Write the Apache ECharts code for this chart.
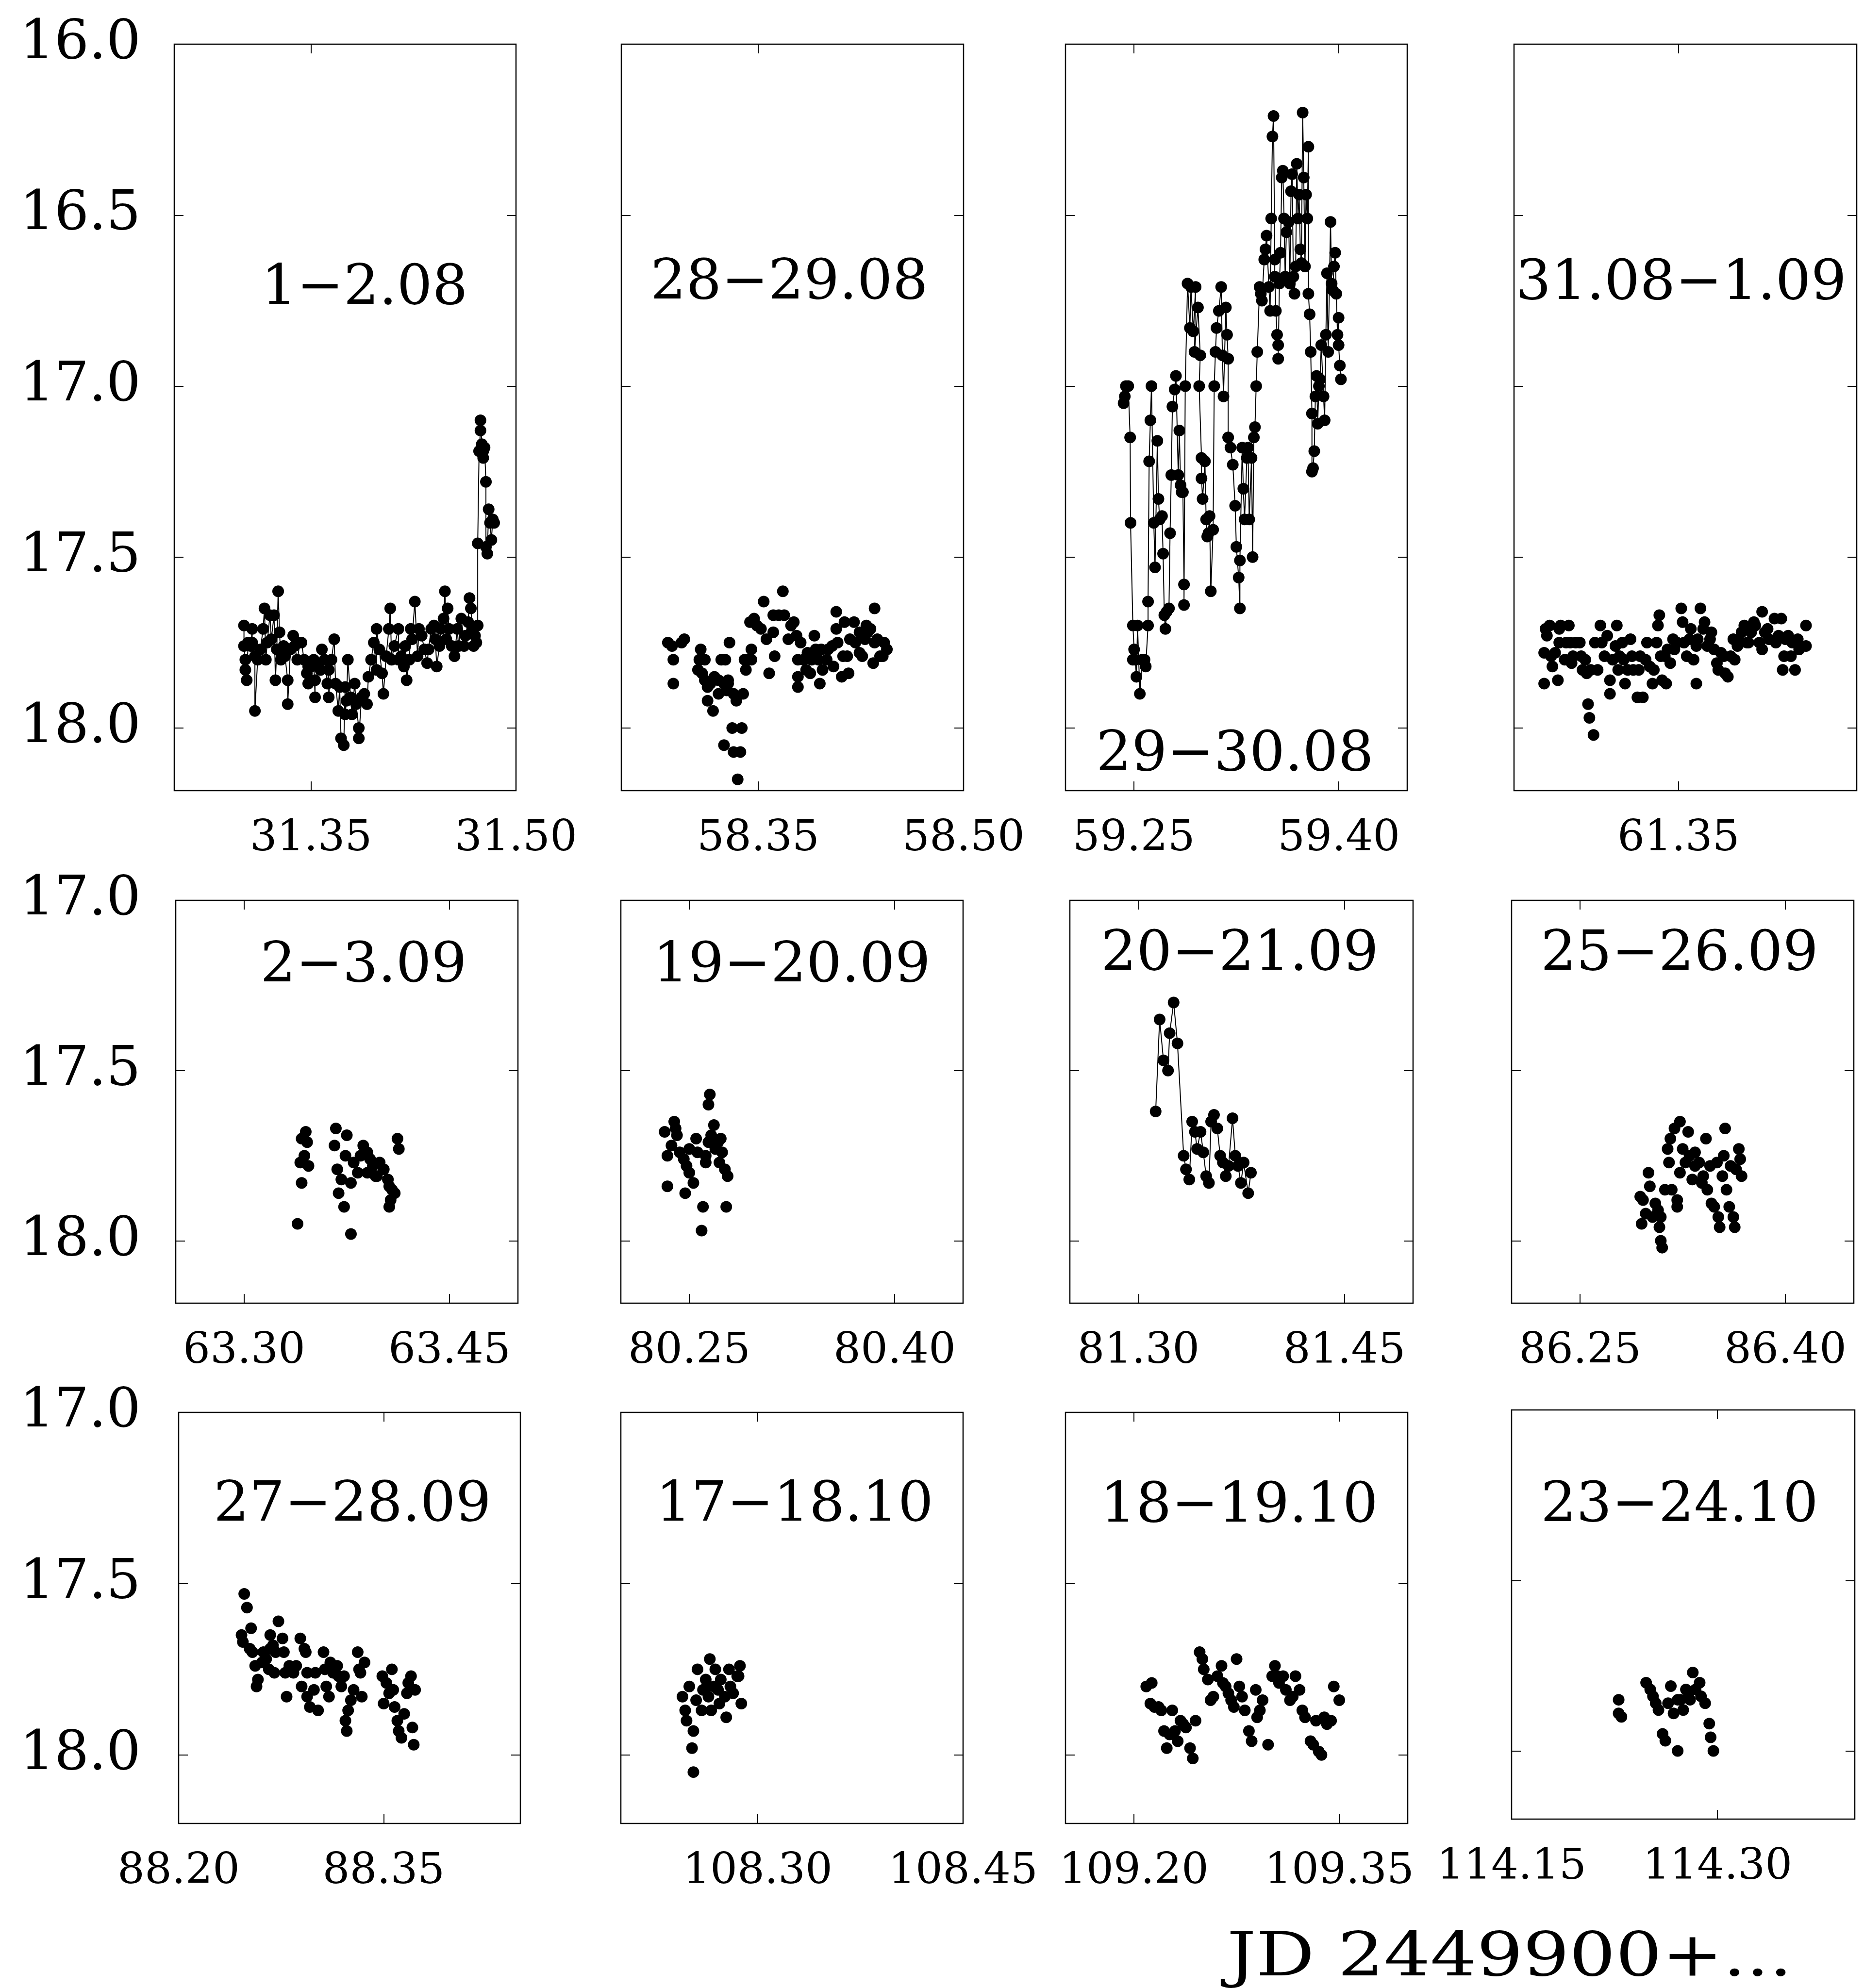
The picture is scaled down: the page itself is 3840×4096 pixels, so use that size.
<!DOCTYPE html>
<html>
<head>
<meta charset="utf-8">
<script src="https://cdn.jsdelivr.net/npm/echarts@6/dist/echarts.min.js"></script>
<style>
html, body { margin: 0; padding: 0; background: #fff; }
#chart { width: 3840px; height: 4096px; }
</style>
</head>
<body>
<div id="chart"></div>
<script>
// light curves, JD - 2449900 vs magnitude, one array per night
const p1Data = [[31.301,17.70],[31.301,17.76],[31.302,17.80],[31.302,17.83],[31.303,17.86],[31.304,17.75],[31.306,17.76],[31.307,17.71],[31.307,17.75],[31.309,17.79],[31.309,17.95],[31.311,17.80],[31.313,17.77],[31.315,17.71],[31.316,17.65],[31.317,17.80],[31.318,17.75],[31.320,17.67],[31.321,17.74],[31.323,17.67],[31.324,17.86],[31.325,17.77],[31.326,17.60],[31.327,17.72],[31.328,17.80],[31.330,17.76],[31.331,17.79],[31.333,17.86],[31.333,17.93],[31.335,17.77],[31.337,17.73],[31.338,17.76],[31.340,17.80],[31.342,17.75],[31.343,17.75],[31.345,17.80],[31.347,17.84],[31.348,17.82],[31.348,17.87],[31.350,17.82],[31.352,17.80],[31.353,17.91],[31.353,17.86],[31.355,17.82],[31.357,17.83],[31.358,17.77],[31.360,17.80],[31.362,17.87],[31.363,17.83],[31.363,17.91],[31.365,17.80],[31.367,17.74],[31.368,17.87],[31.370,17.95],[31.371,17.88],[31.372,18.03],[31.374,18.05],[31.375,17.88],[31.375,17.96],[31.376,17.92],[31.377,17.80],[31.379,17.91],[31.380,17.96],[31.382,17.87],[31.383,17.93],[31.385,18.00],[31.385,18.03],[31.387,17.91],[31.389,17.90],[31.391,17.93],[31.392,17.85],[31.394,17.80],[31.396,17.75],[31.398,17.83],[31.398,17.71],[31.400,17.77],[31.402,17.84],[31.403,17.90],[31.405,17.79],[31.407,17.71],[31.408,17.65],[31.409,17.80],[31.411,17.76],[31.414,17.71],[31.414,17.80],[31.416,17.79],[31.418,17.82],[31.419,17.76],[31.420,17.86],[31.422,17.80],[31.423,17.71],[31.424,17.74],[31.426,17.63],[31.428,17.79],[31.429,17.71],[31.431,17.73],[31.433,17.77],[31.435,17.81],[31.436,17.77],[31.438,17.71],[31.440,17.70],[31.441,17.74],[31.442,17.82],[31.444,17.76],[31.445,17.71],[31.447,17.68],[31.448,17.60],[31.449,17.74],[31.450,17.65],[31.451,17.71],[31.453,17.76],[31.455,17.79],[31.457,17.71],[31.458,17.76],[31.460,17.68],[31.462,17.76],[31.463,17.73],[31.465,17.69],[31.466,17.62],[31.467,17.65],[31.468,17.71],[31.469,17.76],[31.470,17.73],[31.471,17.75],[31.472,17.70],[31.472,17.46],[31.473,17.19],[31.474,17.13],[31.474,17.10],[31.475,17.17],[31.476,17.19],[31.476,17.21],[31.477,17.18],[31.478,17.28],[31.478,17.47],[31.479,17.49],[31.480,17.36],[31.481,17.40],[31.482,17.45],[31.483,17.39],[31.484,17.40]];

const p2Data = [[58.284,17.75],[58.287,17.76],[58.288,17.80],[58.288,17.87],[58.296,17.74],[58.294,17.75],[58.308,17.77],[58.307,17.80],[58.311,17.80],[58.306,17.83],[58.309,17.84],[58.311,17.86],[58.313,17.88],[58.315,17.87],[58.318,17.85],[58.321,17.86],[58.313,17.92],[58.317,17.95],[58.321,17.90],[58.323,17.80],[58.326,17.80],[58.325,17.87],[58.328,17.87],[58.329,17.75],[58.328,17.86],[58.327,17.89],[58.332,17.90],[58.334,17.92],[58.339,17.90],[58.325,18.05],[58.331,18.00],[58.332,18.07],[58.338,18.00],[58.337,18.07],[58.335,18.15],[58.340,17.80],[58.341,17.83],[58.342,17.80],[58.344,17.69],[58.345,17.80],[58.347,17.68],[58.349,17.70],[58.345,17.77],[58.354,17.63],[58.352,17.71],[58.356,17.74],[58.358,17.84],[58.361,17.67],[58.361,17.72],[58.362,17.79],[58.365,17.67],[58.368,17.60],[58.369,17.67],[58.372,17.74],[58.374,17.70],[58.376,17.69],[58.378,17.73],[58.379,17.80],[58.379,17.85],[58.381,17.75],[58.379,17.88],[58.383,17.80],[58.385,17.83],[58.386,17.78],[58.388,17.84],[58.389,17.80],[58.391,17.73],[58.392,17.77],[58.394,17.80],[58.395,17.87],[58.396,17.77],[58.397,17.83],[58.400,17.80],[58.401,17.77],[58.404,17.76],[58.405,17.82],[58.407,17.71],[58.407,17.66],[58.408,17.75],[58.411,17.85],[58.412,17.79],[58.413,17.69],[58.415,17.79],[58.416,17.84],[58.417,17.74],[58.420,17.69],[58.421,17.75],[58.424,17.72],[58.424,17.78],[58.426,17.79],[58.428,17.74],[58.429,17.70],[58.430,17.72],[58.432,17.71],[58.434,17.81],[58.435,17.75],[58.435,17.65],[58.437,17.74],[58.439,17.79],[58.441,17.79],[58.442,17.75],[58.444,17.77]];

const p3Data = [[59.2425,17.05],[59.2434,17.03],[59.2442,17.00],[59.2459,17.00],[59.2473,17.15],[59.2476,17.40],[59.2493,17.70],[59.2502,17.77],[59.2493,17.80],[59.2510,17.80],[59.2519,17.85],[59.2527,17.70],[59.2544,17.90],[59.2561,17.80],[59.2578,17.80],[59.2587,17.82],[59.2604,17.70],[59.2604,17.63],[59.2612,17.22],[59.2621,17.10],[59.2629,17.00],[59.2646,17.40],[59.2655,17.53],[59.2672,17.16],[59.2680,17.33],[59.2689,17.39],[59.2706,17.38],[59.2714,17.49],[59.2723,17.67],[59.2731,17.71],[59.2740,17.66],[59.2757,17.65],[59.2765,17.43],[59.2774,17.26],[59.2782,17.06],[59.2799,17.01],[59.2808,16.97],[59.2825,17.26],[59.2833,17.13],[59.2842,17.29],[59.2850,17.31],[59.2859,17.31],[59.2867,17.58],[59.2867,17.64],[59.2876,17.00],[59.2893,16.70],[59.2910,16.83],[59.2918,16.71],[59.2935,16.84],[59.2952,16.71],[59.2944,16.90],[59.2969,16.77],[59.2986,16.91],[59.2978,17.00],[59.2995,17.21],[59.2995,17.27],[59.3003,17.33],[59.3020,17.22],[59.3029,17.39],[59.3037,17.44],[59.3046,17.43],[59.3054,17.38],[59.3063,17.60],[59.3080,17.42],[59.3088,17.00],[59.3097,16.90],[59.3105,16.83],[59.3122,16.78],[59.3139,16.71],[59.3148,16.91],[59.3156,17.03],[59.3173,16.77],[59.3182,16.85],[59.3190,16.92],[59.3190,17.15],[59.3207,17.18],[59.3224,17.23],[59.3241,17.35],[59.3250,17.47],[59.3267,17.56],[59.3276,17.65],[59.3276,17.51],[59.3293,17.18],[59.3301,17.30],[59.3310,17.39],[59.3327,17.21],[59.3335,17.18],[59.3344,17.39],[59.3361,17.21],[59.3369,17.50],[59.3378,17.15],[59.3386,17.12],[59.3395,17.00],[59.3403,16.90],[59.3420,16.71],[59.3429,16.73],[59.3437,16.75],[59.3454,16.63],[59.3463,16.60],[59.3471,16.56],[59.3488,16.71],[59.3497,16.78],[59.3505,16.51],[59.3514,16.27],[59.3522,16.21],[59.3531,16.63],[59.3531,16.68],[59.3539,16.78],[59.3548,16.85],[59.3556,16.88],[59.3556,16.92],[59.3565,16.70],[59.3573,16.61],[59.3582,16.39],[59.3590,16.37],[59.3599,16.51],[59.3607,16.68],[59.3616,16.55],[59.3633,16.52],[59.3641,16.70],[59.3650,16.43],[59.3658,16.38],[59.3667,16.68],[59.3675,16.73],[59.3684,16.65],[59.3692,16.35],[59.3701,16.51],[59.3709,16.44],[59.3718,16.60],[59.3726,16.64],[59.3735,16.20],[59.3743,16.39],[59.3752,16.65],[59.3760,16.44],[59.3769,16.51],[59.3777,16.30],[59.3777,16.73],[59.3786,16.79],[59.3794,16.90],[59.3803,17.08],[59.3803,17.25],[59.3811,17.24],[59.3820,17.19],[59.3828,17.03],[59.3837,16.97],[59.3845,17.11],[59.3854,17.00],[59.3862,16.98],[59.3871,16.88],[59.3888,17.03],[59.3896,17.10],[59.3905,16.85],[59.3913,16.67],[59.3922,16.90],[59.3939,16.52],[59.3947,16.70],[59.3956,16.72],[59.3964,16.65],[59.3973,16.61],[59.3981,16.73],[59.3990,16.85],[59.3998,16.80],[59.3998,16.88],[59.4007,16.94],[59.4015,16.98]];

const p4Data = [[61.252,17.87],[61.252,17.78],[61.253,17.71],[61.254,17.73],[61.256,17.70],[61.257,17.79],[61.258,17.82],[61.260,17.78],[61.262,17.86],[61.263,17.71],[61.263,17.75],[61.264,17.70],[61.267,17.80],[61.268,17.75],[61.270,17.70],[61.271,17.75],[61.272,17.81],[61.273,17.79],[61.275,17.75],[61.278,17.75],[61.279,17.79],[61.280,17.83],[61.282,17.80],[61.283,17.84],[61.284,17.93],[61.285,17.97],[61.286,17.83],[61.288,18.02],[61.289,17.75],[61.291,17.83],[61.293,17.70],[61.294,17.75],[61.296,17.79],[61.298,17.73],[61.300,17.86],[61.300,17.90],[61.302,17.80],[61.304,17.76],[61.305,17.70],[61.306,17.83],[61.307,17.79],[61.309,17.75],[61.310,17.80],[61.311,17.87],[61.313,17.83],[61.315,17.74],[61.316,17.79],[61.317,17.83],[61.320,17.91],[61.321,17.83],[61.322,17.79],[61.324,17.91],[61.326,17.80],[61.327,17.75],[61.329,17.82],[61.331,17.87],[61.332,17.83],[61.334,17.75],[61.335,17.70],[61.336,17.67],[61.337,17.79],[61.338,17.86],[61.340,17.79],[61.341,17.87],[61.342,17.77],[61.344,17.81],[61.346,17.74],[61.347,17.77],[61.349,17.75],[61.352,17.65],[61.353,17.69],[61.354,17.75],[61.356,17.79],[61.358,17.74],[61.359,17.71],[61.361,17.80],[61.363,17.76],[61.363,17.87],[61.364,17.74],[61.366,17.65],[61.368,17.71],[61.369,17.69],[61.371,17.76],[61.373,17.74],[61.374,17.72],[61.376,17.77],[61.378,17.81],[61.379,17.83],[61.381,17.78],[61.383,17.79],[61.384,17.84],[61.386,17.85],[61.388,17.79],[61.390,17.74],[61.391,17.80],[61.393,17.76],[61.395,17.75],[61.396,17.72],[61.398,17.70],[61.400,17.75],[61.401,17.75],[61.403,17.72],[61.405,17.69],[61.406,17.70],[61.409,17.75],[61.411,17.66],[61.411,17.77],[61.413,17.72],[61.415,17.71],[61.416,17.74],[61.420,17.68],[61.421,17.75],[61.423,17.73],[61.425,17.68],[61.426,17.83],[61.427,17.79],[61.428,17.74],[61.430,17.73],[61.432,17.79],[61.433,17.75],[61.435,17.83],[61.437,17.74],[61.438,17.77],[61.443,17.76],[61.443,17.70]];

const p5Data = [[63.339,17.95],[63.342,17.70],[63.345,17.68],[63.346,17.71],[63.341,17.77],[63.344,17.75],[63.347,17.78],[63.342,17.83],[63.367,17.67],[63.366,17.72],[63.375,17.69],[63.374,17.75],[63.368,17.79],[63.371,17.82],[63.378,17.83],[63.369,17.86],[63.373,17.90],[63.378,17.98],[63.380,17.77],[63.385,17.75],[63.387,17.72],[63.390,17.74],[63.392,17.76],[63.394,17.78],[63.397,17.81],[63.399,17.77],[63.402,17.79],[63.405,17.82],[63.406,17.84],[63.408,17.85],[63.410,17.86],[63.407,17.88],[63.406,17.90],[63.412,17.70],[63.413,17.73],[63.390,17.80],[63.383,17.80],[63.396,17.81]];

const p6Data = [[80.232,17.68],[80.234,17.75],[80.239,17.65],[80.240,17.67],[80.237,17.72],[80.241,17.69],[80.243,17.74],[80.246,17.76],[80.248,17.78],[80.250,17.80],[80.253,17.83],[80.247,17.86],[80.255,17.70],[80.256,17.74],[80.260,17.90],[80.259,17.97],[80.234,17.84],[80.262,17.77],[80.264,17.71],[80.265,17.57],[80.264,17.60],[80.268,17.66],[80.266,17.69],[80.269,17.73],[80.271,17.71],[80.272,17.77],[80.273,17.70],[80.274,17.74],[80.276,17.79],[80.278,17.81],[80.277,17.90],[80.262,17.75],[80.250,17.73]];

const p7Data = [[81.3125,17.62],[81.3154,17.35],[81.3182,17.47],[81.3215,17.50],[81.3227,17.39],[81.3256,17.30],[81.3284,17.42],[81.3329,17.75],[81.3346,17.79],[81.3370,17.82],[81.3391,17.65],[81.3411,17.68],[81.3427,17.73],[81.3452,17.68],[81.3472,17.74],[81.3493,17.81],[81.3513,17.83],[81.3529,17.65],[81.3550,17.63],[81.3574,17.67],[81.3595,17.75],[81.3615,17.77],[81.3636,17.81],[81.3656,17.78],[81.3685,17.64],[81.3705,17.75],[81.3725,17.78],[81.3746,17.83],[81.3766,17.77],[81.3799,17.86],[81.3819,17.80]];

const p8Data = [[86.294,17.87],[86.296,17.88],[86.298,17.92],[86.295,17.95],[86.300,17.80],[86.301,17.84],[86.305,17.89],[86.307,17.91],[86.303,17.93],[86.309,17.93],[86.308,17.96],[86.309,18.00],[86.310,18.02],[86.312,17.85],[86.314,17.73],[86.315,17.77],[86.316,17.70],[86.317,17.85],[86.321,17.88],[86.321,17.90],[86.319,17.67],[86.323,17.65],[86.323,17.80],[86.325,17.73],[86.327,17.77],[86.329,17.68],[86.330,17.75],[86.332,17.82],[86.334,17.78],[86.334,17.74],[86.337,17.77],[86.339,17.83],[86.340,17.81],[86.342,17.70],[86.343,17.85],[86.345,17.78],[86.346,17.89],[86.348,17.90],[86.350,17.77],[86.351,17.93],[86.352,17.96],[86.354,17.81],[86.355,17.75],[86.356,17.67],[86.357,17.85],[86.359,17.90],[86.360,17.78],[86.362,17.93],[86.363,17.96],[86.364,17.79],[86.366,17.73],[86.367,17.76],[86.368,17.81]];

const p9Data = [[88.248,17.53],[88.250,17.57],[88.246,17.65],[88.247,17.67],[88.253,17.63],[88.252,17.69],[88.254,17.70],[88.256,17.74],[88.258,17.78],[88.257,17.80],[88.261,17.73],[88.262,17.70],[88.264,17.72],[88.267,17.65],[88.267,17.69],[88.266,17.75],[88.269,17.68],[88.271,17.70],[88.270,17.76],[88.273,17.61],[88.276,17.66],[88.277,17.70],[88.278,17.76],[88.279,17.83],[88.281,17.74],[88.284,17.76],[88.286,17.74],[88.289,17.66],[88.292,17.69],[88.290,17.80],[88.293,17.70],[88.294,17.76],[88.294,17.83],[88.296,17.86],[88.299,17.81],[88.300,17.76],[88.302,17.87],[88.306,17.70],[88.307,17.75],[88.308,17.80],[88.310,17.83],[88.311,17.73],[88.313,17.76],[88.316,17.74],[88.317,17.77],[88.319,17.80],[88.321,17.77],[88.322,17.90],[88.323,17.93],[88.324,17.87],[88.326,17.84],[88.328,17.81],[88.331,17.70],[88.332,17.75],[88.333,17.76],[88.334,17.83],[88.336,17.73],[88.349,17.77],[88.350,17.85],[88.352,17.79],[88.354,17.82],[88.356,17.75],[88.357,17.81],[88.358,17.86],[88.360,17.90],[88.361,17.93],[88.363,17.95],[88.365,17.88],[88.367,17.82],[88.368,17.79],[88.370,17.77],[88.371,17.92],[88.372,17.97],[88.373,17.81]];

const p10Data = [[108.245,17.83],[108.247,17.87],[108.248,17.90],[108.250,17.80],[108.253,17.93],[108.252,17.98],[108.253,18.05],[108.255,17.84],[108.256,17.75],[108.259,17.87],[108.260,17.81],[108.262,17.78],[108.264,17.83],[108.265,17.72],[108.268,17.80],[108.269,17.75],[108.271,17.81],[108.272,17.85],[108.273,17.78],[108.276,17.83],[108.277,17.89],[108.279,17.75],[108.280,17.80],[108.282,17.82],[108.285,17.77],[108.287,17.74],[108.288,17.85],[108.286,17.77],[108.266,17.87],[108.263,17.80]];

const p11Data = [[109.209,17.80],[109.213,17.79],[109.212,17.85],[109.215,17.86],[109.218,17.86],[109.220,17.87],[109.222,17.93],[109.224,17.98],[109.226,17.94],[109.228,17.87],[109.230,17.93],[109.232,17.96],[109.234,17.90],[109.236,17.91],[109.238,17.92],[109.241,17.98],[109.243,18.01],[109.245,17.90],[109.248,17.70],[109.250,17.72],[109.251,17.75],[109.254,17.78],[109.256,17.84],[109.258,17.83],[109.261,17.77],[109.264,17.74],[109.265,17.79],[109.267,17.80],[109.269,17.82],[109.271,17.84],[109.273,17.86],[109.275,17.72],[109.277,17.80],[109.279,17.83],[109.281,17.87],[109.284,17.93],[109.286,17.96],[109.289,17.81],[109.290,17.89],[109.292,17.87],[109.294,17.84],[109.298,17.97],[109.301,17.77],[109.303,17.74],[109.305,17.77],[109.306,17.79],[109.309,17.77],[109.311,17.81],[109.314,17.84],[109.316,17.83],[109.318,17.77],[109.321,17.81],[109.323,17.87],[109.325,17.89],[109.329,17.96],[109.331,17.97],[109.333,17.90],[109.335,17.99],[109.337,18.00],[109.339,17.89],[109.341,17.91],[109.344,17.90],[109.346,17.80],[109.350,17.84]];

const p12Data = [[114.228,17.85],[114.228,17.89],[114.230,17.90],[114.248,17.80],[114.251,17.82],[114.253,17.84],[114.255,17.86],[114.257,17.88],[114.260,17.95],[114.262,17.97],[114.264,17.86],[114.266,17.81],[114.268,17.89],[114.271,18.00],[114.271,17.85],[114.273,17.85],[114.275,17.88],[114.277,17.82],[114.279,17.83],[114.280,17.85],[114.282,17.77],[114.284,17.82],[114.287,17.80],[114.288,17.84],[114.291,17.86],[114.294,17.92],[114.295,17.96],[114.297,18.00]];

const nightLabels = ['1\u22122.08', '28\u221229.08', '29\u221230.08', '31.08\u22121.09',
                     '2\u22123.09', '19\u221220.09', '20\u221221.09', '25\u221226.09',
                     '27\u221228.09', '17\u221218.10', '18\u221219.10', '23\u221224.10'];

const xRanges = [[31.25, 31.50], [58.25, 58.50], [59.20, 59.45], [61.23, 61.48],
                 [63.25, 63.50], [80.20, 80.45], [81.25, 81.50], [86.20, 86.45],
                 [88.20, 88.45], [108.20, 108.45], [109.15, 109.40], [114.15, 114.40]];

const xTickValues = [[31.35, 31.50], [58.35, 58.50], [59.25, 59.40], [61.35],
                     [63.30, 63.45], [80.25, 80.40], [81.30, 81.45], [86.25, 86.40],
                     [88.20, 88.35], [108.30, 108.45], [109.20, 109.35], [114.15, 114.30]];

const yRanges = [[16.0, 18.183], [17.0, 18.183], [17.0, 18.2]];
const yTickValues = [[16.5, 17.0, 17.5, 18.0], [17.5, 18.0], [17.5, 18.0]];
const yTickLabels = [[16.0, 16.5, 17.0, 17.5, 18.0], [17.0, 17.5, 18.0], [17.0, 17.5, 18.0]];

const joined = [true, false, true, false, false, false, true, false, false, false, false, false];
const xAxisName = 'JD 2449900+...';

const allData = [p1Data, p2Data, p3Data, p4Data, p5Data, p6Data,
                 p7Data, p8Data, p9Data, p10Data, p11Data, p12Data];

// layout in px: left, top, width, height of each frame
const boxes = [
    [359, 91, 704, 1538], [1280, 91, 705, 1538], [2195, 91, 704, 1538], [3119, 91, 706, 1538],
    [362, 1855, 705, 830], [1279, 1855, 705, 830], [2204, 1855, 707, 830], [3114, 1855, 705, 830],
    [368, 2910, 704, 847], [1279, 2910, 705, 847], [2195, 2910, 705, 847], [3114, 2905, 707, 843]
];
const labelPos = [
    [751, 596], [1626, 585], [2544, 1557], [3463, 586],
    [749, 1992], [1631, 1992], [2554, 1968], [3460, 1968],
    [726, 3103], [1637, 3103], [2553, 3105], [3460, 3104]
];

const FONT = 'DejaVu Serif';

function buildOption() {
    const grid = [], xAxis = [], yAxis = [], series = [], graphic = [];
    const tick = { show: true, inside: true, length: 19, lineStyle: { color: '#000', width: 2 } };

    allData.forEach(function (data, i) {
        const row = Math.floor(i / 4);
        const col = i % 4;
        const b = boxes[i];
        const yr = (i === 11) ? [17.0, 18.2] : yRanges[row];

        grid.push({
            left: b[0], top: b[1], width: b[2], height: b[3],
            show: true, borderColor: '#000', borderWidth: 2.5,
            backgroundColor: 'transparent',
            containLabel: false, outerBoundsMode: 'none'
        });

        // bottom axis with labels, top axis only ticks
        xAxis.push({
            type: 'value', gridIndex: i, position: 'bottom',
            min: xRanges[i][0], max: xRanges[i][1],
            axisLine: { show: false }, splitLine: { show: false },
            axisTick: Object.assign({}, tick, { customValues: xTickValues[i] }),
            axisLabel: {
                customValues: xTickValues[i],
                formatter: function (v) { return v.toFixed(2); },
                fontFamily: FONT, fontSize: 88, color: '#000', margin: 56
            }
        });
        xAxis.push({
            type: 'value', gridIndex: i, position: 'top',
            min: xRanges[i][0], max: xRanges[i][1],
            axisLine: { show: false }, splitLine: { show: false },
            axisTick: Object.assign({}, tick, { customValues: xTickValues[i] }),
            axisLabel: { show: false }
        });

        yAxis.push({
            type: 'value', gridIndex: i, position: 'left', inverse: true,
            min: yr[0], max: yr[1],
            axisLine: { show: false }, splitLine: { show: false },
            axisTick: Object.assign({}, tick, { customValues: yTickValues[row] }),
            axisLabel: {
                show: col === 0,
                customValues: yTickLabels[row],
                formatter: function (v) { return v.toFixed(1); },
                fontFamily: FONT, fontSize: 112, color: '#000', margin: b[0] - 290
            }
        });
        yAxis.push({
            type: 'value', gridIndex: i, position: 'right', inverse: true,
            min: yr[0], max: yr[1],
            axisLine: { show: false }, splitLine: { show: false },
            axisTick: Object.assign({}, tick, { customValues: yTickValues[row] }),
            axisLabel: { show: false }
        });

        series.push({
            type: joined[i] ? 'line' : 'scatter',
            xAxisIndex: 2 * i, yAxisIndex: 2 * i,
            data: data,
            symbol: 'circle', symbolSize: 24,
            showAllSymbol: true,
            itemStyle: { color: '#000', opacity: 1 },
            lineStyle: { color: '#000', width: 2 },
            silent: true
        });

        graphic.push({
            type: 'text', x: labelPos[i][0], y: labelPos[i][1], silent: true,
            style: {
                text: nightLabels[i], fontFamily: FONT, fontSize: 115, fill: '#000',
                align: 'center', verticalAlign: 'middle',
                textAlign: 'center', textVerticalAlign: 'middle'
            }
        });
    });

    graphic.push({
        type: 'text', x: 3110, y: 4038, scaleX: 1.2, silent: true,
        style: {
            text: xAxisName, fontFamily: FONT, fontSize: 125, fill: '#000',
            align: 'center', verticalAlign: 'middle',
            textAlign: 'center', textVerticalAlign: 'middle'
        }
    });

    return {
        animation: false,
        backgroundColor: '#fff',
        grid: grid,
        xAxis: xAxis,
        yAxis: yAxis,
        series: series,
        graphic: graphic
    };
}

const chart = echarts.init(document.getElementById('chart'), null, { renderer: 'canvas' });
chart.setOption(buildOption());
</script>
</body>
</html>
